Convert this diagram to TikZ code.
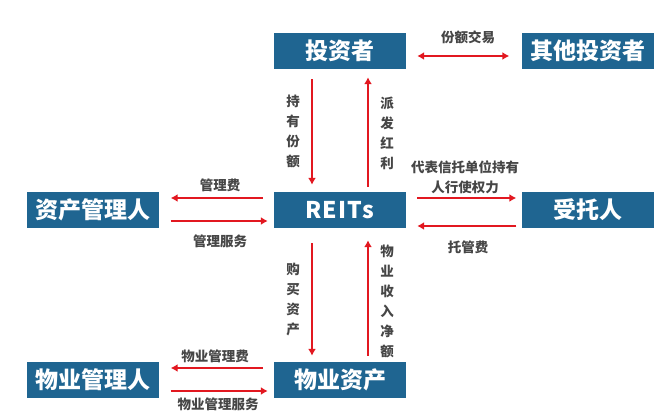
\documentclass[tikz,border=0pt]{standalone}
\usepackage{fontspec}
\newfontfamily\cjk{Noto Sans CJK SC}
\usetikzlibrary{arrows.meta}
\definecolor{boxblue}{RGB}{31,101,145}
\definecolor{flowred}{RGB}{226,24,32}
\definecolor{txtgray}{RGB}{70,70,70}
\begin{document}
\begin{tikzpicture}[x=1pt,y=-1pt,
  party/.style={fill=boxblue, text=white, minimum width=132pt, minimum height=36pt,
    inner sep=0pt, font=\cjk\bfseries\fontsize{23}{25}\selectfont},
  flow/.style={draw=flowred, line width=1.8pt, -{Latex[length=7pt,width=8pt]}},
  lbl/.style={text=txtgray, inner sep=0pt, align=center, font=\cjk\bfseries\fontsize{13.5}{20}\selectfont}]
\useasboundingbox (0,0) rectangle (672,420);
% parties
\node[party] (inv) at (340,51) {投资者};
\node[party] (oth) at (587.5,51) {其他投资者};
\node[party] (mgr) at (92.5,210) {资产管理人};
\node[party] (reits) at (340,210) {R\kern1pt E\kern1pt I\kern1pt T\kern1pt s};
\node[party] (tru) at (587.5,210) {受托人};
\node[party] (pm) at (92.5,380) {物业管理人};
\node[party] (prop) at (340,380) {物业资产};
% flows
\draw[flow, {Latex[length=7pt,width=8pt]}-{Latex[length=7pt,width=8pt]}, shorten <=11pt, shorten >=12pt]
  ([yshift=-5pt]inv.east) -- ([yshift=-5pt]oth.west);
\draw[flow, shorten <=10pt, shorten >=7pt] ([xshift=-28pt]inv.south) -- ([xshift=-28pt]reits.north);
\draw[flow, shorten <=5pt, shorten >=8pt] ([xshift=28pt]reits.north) -- ([xshift=28pt]inv.south);
\draw[flow, shorten <=11pt, shorten >=5pt] ([yshift=12pt]reits.east) -- ([yshift=12pt]tru.west);
\draw[flow, shorten <=5pt, shorten >=11pt] ([yshift=-16pt]tru.west) -- ([yshift=-16pt]reits.east);
\draw[flow, shorten <=11pt, shorten >=12pt] ([yshift=12pt]reits.west) -- ([yshift=12pt]mgr.east);
\draw[flow, shorten <=12pt, shorten >=6pt] ([yshift=-11pt]mgr.east) -- ([yshift=-11pt]reits.west);
\draw[flow, shorten <=15pt, shorten >=6pt] ([xshift=-28pt]reits.south) -- ([xshift=-28pt]prop.north);
\draw[flow, shorten <=6pt, shorten >=12pt] ([xshift=28pt]prop.north) -- ([xshift=28pt]reits.south);
\draw[flow, shorten <=11pt, shorten >=12pt] ([yshift=12pt]prop.west) -- ([yshift=12pt]pm.east);
\draw[flow, shorten <=12pt, shorten >=6pt] ([yshift=-11pt]pm.east) -- ([yshift=-11pt]prop.west);
% labels
\node[lbl] (l1) at (468,37) {份额交易};
\node[lbl] (l2) at (293,131) {持\\有\\份\\额};
\node[lbl] (l3) at (387,133) {派\\发\\红\\利};
\node[lbl] (l4) at (465,177.5) {代表信托单位持有\\人行使权力};
\node[lbl] (l5) at (468,247) {托管费};
\node[lbl] (l6) at (220,185) {管理费};
\node[lbl] (l7) at (220,241) {管理服务};
\node[lbl] (l8) at (293,299) {购\\买\\资\\产};
\node[lbl] (l9) at (387,301) {物\\业\\收\\入\\净\\额};
\node[lbl] (l10) at (215,356) {物业管理费};
\node[lbl] (l11) at (218,404) {物业管理服务};
\end{tikzpicture}
\end{document}
